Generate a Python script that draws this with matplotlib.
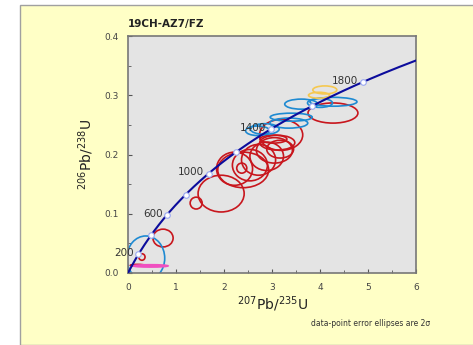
import numpy as np
import matplotlib.pyplot as plt
from matplotlib.patches import Ellipse, Rectangle

# concordia ages with markers (Ma)
marker_ages = [200, 400, 600, 800, 1000, 1200, 1400, 1600, 1800]
label_ages = [200, 600, 1000, 1400, 1800]
l238 = 1.55125e-10
l235 = 9.8485e-10

# error ellipses: centre x, centre y, width, height (2 sigma)
red_x = [0.20, 0.29, 0.73, 1.42, 1.94, 2.22, 2.40, 2.37, 2.54, 2.72, 2.89, 3.05, 3.17, 3.11, 3.19, 3.03, 4.27]
red_y = [0.013, 0.027, 0.059, 0.118, 0.134, 0.176, 0.174, 0.177, 0.182, 0.191, 0.197, 0.207, 0.209, 0.220, 0.233, 0.226, 0.270]
red_w = [0.30, 0.13, 0.42, 0.25, 0.96, 0.75, 1.06, 0.21, 0.73, 0.71, 0.70, 0.75, 0.56, 0.73, 0.90, 0.56, 1.04]
red_h = [0.003, 0.011, 0.030, 0.020, 0.062, 0.056, 0.060, 0.017, 0.053, 0.052, 0.048, 0.043, 0.030, 0.025, 0.052, 0.0135, 0.034]

blue_x = [0.37, 2.70, 2.85, 3.35, 3.40, 3.61, 4.00, 4.28]
blue_y = [0.025, 0.240, 0.243, 0.253, 0.263, 0.285, 0.287, 0.289]
blue_w = [0.79, 0.50, 0.60, 0.79, 0.875, 0.69, 0.52, 0.98]
blue_h = [0.075, 0.016, 0.018, 0.017, 0.0135, 0.017, 0.015, 0.015]

yel_x = [3.98, 4.10]
yel_y = [0.300, 0.309]
yel_w = [0.44, 0.50]
yel_h = [0.010, 0.0135]

pink_x, pink_y, pink_w, pink_h = 0.47, 0.012, 0.73, 0.004

fig = plt.figure(figsize=(4.73, 3.45), dpi=100)
fig.patch.set_facecolor('white')
fig.patches.append(Rectangle((20 / 473, 0), 1, 1 - 5 / 345, transform=fig.transFigure,
                             facecolor='#ffffc6', edgecolor='#a0a0a0', lw=1.0, zorder=-10))

ax = fig.add_axes([128 / 473, 1 - 273 / 345, 288 / 473, 237 / 345])
ax.set_facecolor('#e4e4e4')

for x, y, w, h in zip(red_x, red_y, red_w, red_h):
    ax.add_patch(Ellipse((x, y), w, h, fill=False, ec='#c8161d', lw=1.2, zorder=2))
for x, y, w, h in zip(blue_x, blue_y, blue_w, blue_h):
    ax.add_patch(Ellipse((x, y), w, h, fill=False, ec='#1e8ad2', lw=1.2, zorder=2))
for x, y, w, h in zip(yel_x, yel_y, yel_w, yel_h):
    ax.add_patch(Ellipse((x, y), w, h, fill=False, ec='#f5c850', lw=1.2, zorder=2))
ax.add_patch(Ellipse((pink_x, pink_y), pink_w, pink_h, fill=True, fc='#f050c0', ec='#f050c0', lw=1.2, zorder=2))

# concordia curve
t = np.linspace(0, 2100, 300) * 1e6
ax.plot(np.exp(l235 * t) - 1, np.exp(l238 * t) - 1, color='#0c0c9c', lw=1.5, zorder=3)
ta = np.array(marker_ages) * 1e6
ax.plot(np.exp(l235 * ta) - 1, np.exp(l238 * ta) - 1, 'o', ms=4, mfc='white',
        mec='#9aa8f0', mew=0.8, zorder=4)
for a in label_ages:
    ax.annotate(str(a), (np.exp(l235 * a * 1e6) - 1, np.exp(l238 * a * 1e6) - 1),
                xytext=(-3, 1), textcoords='offset points', ha='right', va='center',
                fontsize=7.5, color='#333333', zorder=5)

ax.set_xlim(0, 6)
ax.set_ylim(0, 0.4)
ax.set_xticks(range(7))
ax.set_xticks(np.arange(0.5, 6, 1), minor=True)
ax.set_yticks([0, 0.1, 0.2, 0.3, 0.4])
ax.set_yticklabels(['0.0', '0.1', '0.2', '0.3', '0.4'])
ax.set_yticks(np.arange(0.05, 0.4, 0.1), minor=True)
ax.tick_params(which='both', direction='in', colors='#555555', labelsize=6.5, labelcolor='#444444')
ax.tick_params(which='major', length=3, pad=7)
ax.tick_params(which='minor', length=2)
for s in ax.spines.values():
    s.set_color('#777777')
    s.set_linewidth(1.2)

ax.set_xlabel('$^{207}$Pb/$^{235}$U', fontsize=10, color='#222222', labelpad=2)
ax.set_ylabel('$^{206}$Pb/$^{238}$U', fontsize=10, color='#222222', labelpad=6)

fig.text(128 / 473, 1 - 24 / 345, '19CH-AZ7/FZ', fontsize=7.5, fontweight='bold',
         color='#222222', va='center', ha='left')
fig.text(311 / 473, 1 - 324 / 345, 'data-point error ellipses are 2\u03c3', fontsize=5.5,
         color='#333333', va='center', ha='left')

fig.savefig('out.png', dpi=100, facecolor=fig.get_facecolor())
